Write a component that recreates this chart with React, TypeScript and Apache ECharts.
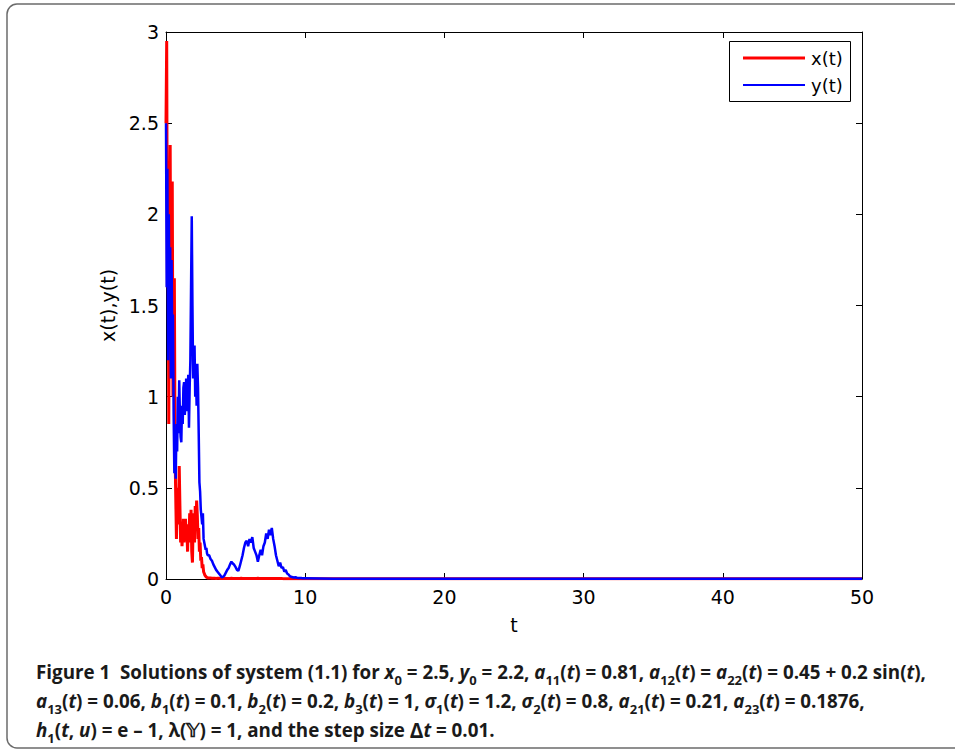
import React, { useEffect, useRef } from "react";
import * as echarts from "echarts";

// x(t) and y(t) sampled every 0.05 for t in [0, 3]
const xEarly = [
  2.5, 2.95, 1.6, 2.2, 0.85, 1.9, 2.38, 1.3, 1.5, 2.18,
  1.0, 1.2, 1.65, 0.7, 0.45, 0.22, 0.5, 0.3, 0.35, 0.62,
  0.4, 0.2, 0.3, 0.18, 0.25, 0.33, 0.2, 0.28, 0.33, 0.22,
  0.27, 0.15, 0.3, 0.2, 0.36, 0.25, 0.38, 0.15, 0.09, 0.3,
  0.36, 0.2, 0.4, 0.3, 0.43, 0.35, 0.22, 0.28, 0.15, 0.2,
  0.1, 0.12, 0.06, 0.08, 0.04, 0.03, 0.02, 0.015, 0.01, 0.008,
  0.006,
];
const yEarly = [
  2.5, 1.6, 2.25, 1.2, 2.0, 1.5, 1.82, 1.1, 1.75, 1.3,
  1.45, 0.9, 0.58, 0.7, 0.55, 0.85, 0.7, 1.0, 0.8, 1.09,
  0.9, 0.78, 0.75, 0.95, 0.85, 1.05, 1.08, 0.9, 0.98, 1.1,
  0.92, 1.0, 1.12, 0.83, 1.05, 1.2, 1.6, 1.99, 1.5, 1.1,
  1.2, 1.28, 1.0, 1.15, 0.95, 1.18, 1.05, 0.8, 0.53, 0.48,
  0.38, 0.34, 0.3, 0.36, 0.22, 0.2, 0.18, 0.16, 0.17, 0.14,
  0.13,
];
// x(t) and y(t) sampled every 0.1 for t in [3.1, 10]
const xMid = [
  0.005, 0.005, 0.004, 0.004, 0.004, 0.003, 0.004, 0.004, 0.003, 0.003,
  0.003, 0.004, 0.003, 0.003, 0.003, 0.003, 0.004, 0.003, 0.003, 0.003,
  0.003, 0.003, 0.003, 0.004, 0.003, 0.003, 0.003, 0.003, 0.003, 0.003,
  0.003, 0.003, 0.003, 0.003, 0.003, 0.004, 0.003, 0.003, 0.003, 0.003,
  0.003, 0.003, 0.003, 0.003, 0.003, 0.003, 0.003, 0.003, 0.003, 0.003,
  0.003, 0.003, 0.003, 0.002, 0.002, 0.002, 0.002, 0.002, 0.002, 0.002,
  0.002, 0.002, 0.002, 0.002, 0.002, 0.002, 0.002, 0.002, 0.002, 0.002,
];
const yMid = [
  0.13, 0.11, 0.1, 0.08, 0.065, 0.05, 0.04, 0.03, 0.02, 0.01,
  0.012, 0.02, 0.035, 0.05, 0.06, 0.08, 0.095, 0.085, 0.078, 0.065,
  0.05, 0.045, 0.07, 0.1, 0.13, 0.17, 0.2, 0.21, 0.18, 0.22,
  0.2, 0.23, 0.17, 0.15, 0.13, 0.095, 0.13, 0.16, 0.13, 0.18,
  0.2, 0.25, 0.22, 0.27, 0.24, 0.28, 0.22, 0.18, 0.13, 0.1,
  0.07, 0.09, 0.06, 0.065, 0.04, 0.05, 0.03, 0.025, 0.015, 0.012,
  0.01, 0.008, 0.01, 0.007, 0.006, 0.005, 0.005, 0.004, 0.004, 0.004,
];
// long tail
const tTail = [11, 12, 15, 20, 30, 40, 50];
const xTail = [0.002, 0.002, 0.001, 0.001, 0.001, 0.001, 0.001];
const yTail = [0.003, 0.002, 0.002, 0.001, 0.001, 0.001, 0.001];

const xTicks = [0, 10, 20, 30, 40, 50];
const yTicks = [0, 0.5, 1, 1.5, 2, 2.5, 3];
const seriesNames = ["x(t)", "y(t)"];

const caption =
  "{b|Figure 1\u00a0\u00a0Solutions of system (1.1) for }{i|x}{s|0}{b|\u00a0=\u00a02.5, }{i|y}{s|0}{b|\u00a0=\u00a02.2, }{i|a}{s|11}{b|(}{i|t}{b|)\u00a0=\u00a00.81, }{i|a}{s|12}{b|(}{i|t}{b|)\u00a0=\u00a0}{i|a}{s|22}{b|(}{i|t}{b|)\u00a0=\u00a00.45\u00a0+\u00a00.2\u00a0sin(}{i|t}{b|),}\n" +
  "{i|a}{s|13}{b|(}{i|t}{b|)\u00a0=\u00a00.06, }{i|b}{s|1}{b|(}{i|t}{b|)\u00a0=\u00a00.1, }{i|b}{s|2}{b|(}{i|t}{b|)\u00a0=\u00a00.2, }{i|b}{s|3}{b|(}{i|t}{b|)\u00a0=\u00a01, }{i|σ}{s|1}{b|(}{i|t}{b|)\u00a0=\u00a01.2, }{i|σ}{s|2}{b|(}{i|t}{b|)\u00a0=\u00a00.8, }{i|a}{s|21}{b|(}{i|t}{b|)\u00a0=\u00a00.21, }{i|a}{s|23}{b|(}{i|t}{b|)\u00a0=\u00a00.1876,}\n" +
  "{i|h}{s|1}{b|(}{i|t}{b|,\u00a0}{i|u}{b|)\u00a0=\u00a0e\u00a0–\u00a01, λ(𝕐)\u00a0=\u00a01, and the step size }{d|Δ}{i|t}{b|\u00a0=\u00a00.01.}";

export default function App() {
  const ref = useRef<HTMLDivElement>(null);
  useEffect(() => {
    if (!ref.current) return;
    const chart = echarts.init(ref.current, undefined, { renderer: "svg" });
    const xData: number[][] = [];
    const yData: number[][] = [];
    xEarly.forEach((v, i) => xData.push([+(i * 0.05).toFixed(2), v]));
    yEarly.forEach((v, i) => yData.push([+(i * 0.05).toFixed(2), v]));
    xMid.forEach((v, i) => xData.push([+(3.1 + i * 0.1).toFixed(1), v]));
    yMid.forEach((v, i) => yData.push([+(3.1 + i * 0.1).toFixed(1), v]));
    tTail.forEach((t, i) => {
      xData.push([t, xTail[i]]);
      yData.push([t, yTail[i]]);
    });
    const font = "'DejaVu Sans', Verdana, sans-serif";
    const capFont = "'Open Sans', Lato, sans-serif";
    const axisCommon = {
      type: "value" as const,
      splitLine: { show: false },
      axisLine: { show: true, onZero: false, lineStyle: { color: "#000", width: 1 } },
      axisTick: { show: true, inside: true, length: 6, lineStyle: { color: "#000", width: 1 } },
    };
    chart.setOption({
      animation: false,
      backgroundColor: "#fff",
      grid: { left: 166, right: 93, top: 32, bottom: 173 },
      xAxis: [
        {
          ...axisCommon,
          position: "bottom",
          min: xTicks[0],
          max: xTicks[xTicks.length - 1],
          interval: 10,
          axisLabel: { fontSize: 19, color: "#000", fontFamily: font, margin: 8 },
          name: "t",
          nameLocation: "middle",
          nameGap: 36,
          nameTextStyle: { fontSize: 19, color: "#000", fontFamily: font },
        },
        {
          ...axisCommon,
          position: "top",
          min: xTicks[0],
          max: xTicks[xTicks.length - 1],
          interval: 10,
          axisLabel: { show: false },
        },
      ],
      yAxis: [
        {
          ...axisCommon,
          position: "left",
          min: yTicks[0],
          max: yTicks[yTicks.length - 1],
          interval: 0.5,
          axisLabel: { fontSize: 19, color: "#000", fontFamily: font, margin: 7 },
          name: "x(t),y(t)",
          nameLocation: "middle",
          nameGap: 49,
          nameTextStyle: { fontSize: 19, color: "#000", fontFamily: font },
        },
        {
          ...axisCommon,
          position: "right",
          min: yTicks[0],
          max: yTicks[yTicks.length - 1],
          interval: 0.5,
          axisLabel: { show: false },
        },
      ],
      series: [
        {
          name: seriesNames[0],
          type: "line",
          data: xData,
          showSymbol: false,
          symbol: "none",
          lineStyle: { color: "#ff0000", width: 3 },
          z: 2,
        },
        {
          name: seriesNames[1],
          type: "line",
          data: yData,
          showSymbol: false,
          symbol: "none",
          lineStyle: { color: "#0000ff", width: 2.5 },
          z: 3,
        },
      ],
      graphic: [
        {
          type: "rect",
          shape: { x: 7, y: 4, width: 1000, height: 744, r: 10 },
          style: { fill: "none", stroke: "#6b6b6b", lineWidth: 1.5 },
          z: 0,
          silent: true,
        },
        {
          type: "rect",
          shape: { x: 729.5, y: 41.5, width: 121, height: 60 },
          style: { fill: "#fff", stroke: "#000", lineWidth: 1 },
          z: 10,
        },
        {
          type: "line",
          shape: { x1: 743, y1: 58, x2: 805, y2: 58 },
          style: { stroke: "#ff0000", lineWidth: 3 },
          z: 11,
        },
        {
          type: "line",
          shape: { x1: 743, y1: 85, x2: 805, y2: 85 },
          style: { stroke: "#0000ff", lineWidth: 2 },
          z: 11,
        },
        {
          type: "text",
          x: 811,
          y: 58,
          style: { text: seriesNames[0], fontSize: 18, fontFamily: font, fill: "#000", verticalAlign: "middle" },
          z: 11,
        },
        {
          type: "text",
          x: 811,
          y: 85,
          style: { text: seriesNames[1], fontSize: 18, fontFamily: font, fill: "#000", verticalAlign: "middle" },
          z: 11,
        },
        {
          type: "text",
          x: 36,
          y: 657,
          style: {
            text: caption,
            verticalAlign: "top",
            rich: {
              b: { fontSize: 18.8, fontWeight: "bold", fontFamily: capFont, fill: "#1a1a1a", lineHeight: 29 },
              i: { fontSize: 18.8, fontWeight: "bold", fontStyle: "italic", fontFamily: capFont, fill: "#1a1a1a", lineHeight: 29 },
              d: { fontSize: 20.8, fontWeight: "bold", fontFamily: capFont, fill: "#1a1a1a", lineHeight: 29 },
              s: { fontSize: 13, fontWeight: "bold", fontFamily: capFont, fill: "#1a1a1a", lineHeight: 19, verticalAlign: "bottom" },
            },
          },
          z: 11,
        },
      ],
    });
    return () => chart.dispose();
  }, []);
  return (
    <div
      ref={ref}
      style={{ position: "fixed", left: 0, top: 0, width: 955, height: 752, background: "#fff" }}
    />
  );
}
